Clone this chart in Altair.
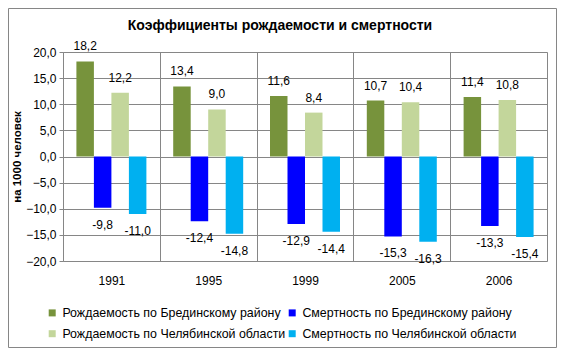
import altair as alt
import pandas as pd

years = ["1991", "1995", "1999", "2005", "2006"]
series = [
    "Рождаемость по Брединскому району",
    "Смертность по Брединскому району",
    "Рождаемость по Челябинской области",
    "Смертность по Челябинской области",
]
colors = ["#77933C", "#0000FF", "#C3D69B", "#00B0F0"]
birth_bred = [18.2, 13.4, 11.6, 10.7, 11.4]
death_bred = [-9.8, -12.4, -12.9, -15.3, -13.3]
birth_chel = [12.2, 9.0, 8.4, 10.4, 10.8]
death_chel = [-11.0, -14.8, -14.4, -16.3, -15.4]
y_ticks = [-20, -15, -10, -5, 0, 5, 10, 15, 20]

rows = []
for s, vals in zip(series, [birth_bred, death_bred, birth_chel, death_chel]):
    for y, v in zip(years, vals):
        rows.append({"year": y, "series": s, "value": v,
                     "label": f"{v:.1f}".replace(".", ",")})
df = pd.DataFrame(rows)

# legend is filled column by column: reorder so rows read like the reference
legend_order = [series[0], series[2], series[1], series[3]]
legend_colors = [colors[0], colors[2], colors[1], colors[3]]

FONT = "Liberation Sans"
GRID = "#868686"

x_scale = alt.Scale(paddingInner=0, paddingOuter=0)
xoff_scale = alt.Scale(paddingOuter=0.766, paddingInner=0)
y_scale = alt.Scale(domain=[-20, 20], nice=False, zero=False)

x_axis = alt.Axis(domain=False, ticks=False, grid=True, tickBand="extent",
                  gridColor=GRID, labelAngle=0, labelPadding=14,
                  labelFont=FONT, labelFontSize=12, labelColor="#000000")
y_axis = alt.Axis(values=y_ticks, labelOverlap=False,
                  labelExpr="replace(format(datum.value, '.1f'), '.', ',')",
                  grid=True, gridColor=GRID, domainColor=GRID, tickColor=GRID,
                  tickSize=4, labelPadding=3, labelFont=FONT, labelFontSize=12,
                  labelColor="#000000", titleFont=FONT, titleFontSize=11.5,
                  titleFontWeight="bold", titleColor="#000000", titlePadding=3)

x_enc = alt.X("year:N", sort=years, title=None, scale=x_scale, axis=x_axis)
xoff_enc = alt.XOffset("series:N", sort=series, scale=xoff_scale)
y_enc = alt.Y("value:Q", title="на 1000 человек", scale=y_scale, axis=y_axis)
color_enc = alt.Color("series:N",
                      scale=alt.Scale(domain=legend_order, range=legend_colors),
                      legend=alt.Legend(title=None, orient="none", legendX=-17, legendY=254.5,
                                        columns=2, columnPadding=-8, rowPadding=8,
                                        symbolType="square", symbolSize=49,
                                        symbolStrokeWidth=0, labelOffset=4,
                                        labelFont=FONT, labelFontSize=12.4,
                                        labelColor="#000000", labelLimit=400, padding=0))

base = alt.Chart(df)

bars = base.mark_bar(stroke=None).encode(x=x_enc, xOffset=xoff_enc, y=y_enc, color=color_enc)

pos_text = base.transform_filter("datum.value >= 0").mark_text(
    baseline="bottom", dy=-8, font=FONT, fontSize=12, color="#000000"
).encode(x=x_enc, xOffset=xoff_enc, y=y_enc, text="label:N")

neg_text = base.transform_filter("datum.value < 0").mark_text(
    baseline="top", dy=12, font=FONT, fontSize=12, color="#000000"
).encode(x=x_enc, xOffset=xoff_enc, y=y_enc, text="label:N")

border = alt.Chart(pd.DataFrame({"a": [0]})).mark_rect(
    fill=None, stroke="#868686", strokeWidth=1
).encode(x=alt.value(-54.5), x2=alt.value(493.5), y=alt.value(-43.5), y2=alt.value(295.5))

chart = alt.layer(bars, pos_text, neg_text, border).properties(
    width=484, height=209,
    title=alt.TitleParams("Коэффициенты рождаемости и смертности", font=FONT,
                          fontSize=14, fontWeight="bold", color="#000000",
                          anchor="middle", baseline="bottom", dx=-25, dy=15, offset=-24),
    autosize=alt.AutoSizeParams(type="none"),
    padding={"left": 55, "top": 44, "right": 10, "bottom": 87},
).configure_view(stroke=GRID).configure(background="#ffffff")

chart.save("out.html", embed_options={"renderer": "svg", "actions": False})
